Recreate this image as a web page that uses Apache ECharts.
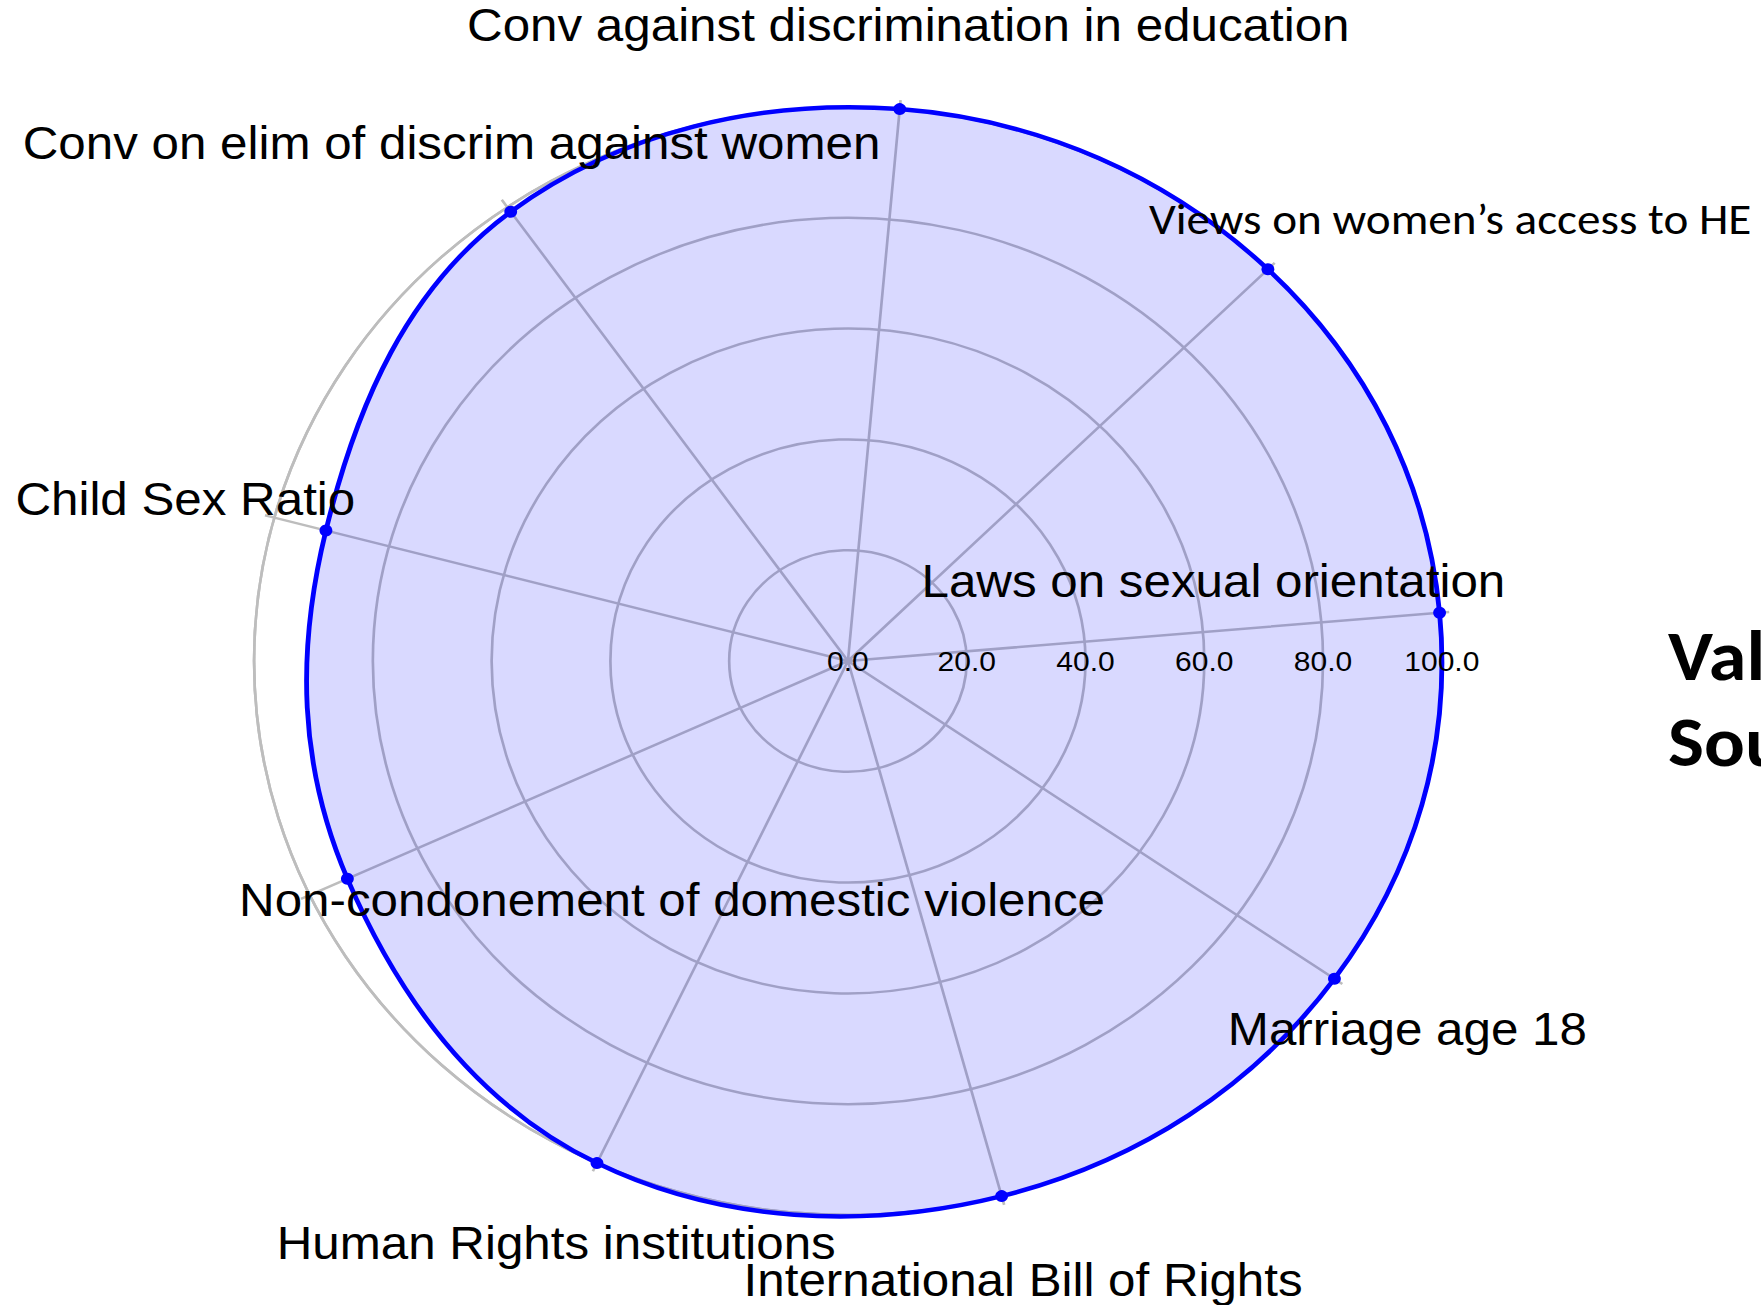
<!DOCTYPE html>
<html>
<head>
<meta charset="utf-8">
<title>Radar</title>
<script src="https://cdn.jsdelivr.net/npm/echarts@6.0.0/dist/echarts.min.js"></script>
<style>
  html, body { margin: 0; padding: 0; background: #fff; overflow: hidden; }
  /* the source picture is a bit wider than tall, so stretch the drawing horizontally */
  #main { width: 1643px; height: 1305px; transform: scaleX(1.072); transform-origin: 0 0; }
</style>
</head>
<body>
<div id="main"></div>
<script>
const categories = [
  'Laws on sexual orientation',
  'Views on women\u2019s access to HE',
  'Conv against discrimination in education',
  'Conv on elim of discrim against women',
  'Child Sex Ratio',
  'Non-condonement of domestic violence',
  'Human Rights institutions',
  'International Bill of Rights',
  'Marriage age 18'
];
const scores = [100, 100, 100, 99, 91, 93, 100, 100, 100];
const radialTicks = [0, 20, 40, 60, 80, 100];
const titleLines = ['Val', 'Sou'];

// axis name placement, relative to the outer end of each spoke (px)
const nameOffsets = [
  [-211, -32], [170, -50], [8, -84], [-52, -64], [-83, -19],
  [338, 5], [-38, 80], [20, 84], [68, 50]
];

const step = 360 / categories.length;
const angles = categories.map((c, i) => i * step);
const rMax = radialTicks[radialTicks.length - 1];
const gridColor = '#bdbdbd';
const CENTER = [791, 661];
const RADIUS = 554;

var myChart = echarts.init(document.getElementById('main'), null, { renderer: 'svg' });

var option = {
  animation: false,
  backgroundColor: '#ffffff',
  title: {
    text: titleLines.join('\n'),
    left: 1551,
    top: 608,
    textStyle: {
      fontFamily: 'Carlito, Lato, sans-serif',
      fontWeight: 'bold',
      fontSize: 71,
      lineHeight: 86,
      color: '#000'
    }
  },
  polar: [
    { center: CENTER, radius: RADIUS },
    { center: CENTER, radius: RADIUS }
  ],
  angleAxis: [
    {
      polarIndex: 0,
      type: 'value',
      min: 0,
      max: 360,
      interval: step,
      startAngle: 5,
      clockwise: false,
      axisLine: { show: true, lineStyle: { color: gridColor, width: 2.5 } },
      axisTick: { show: true, inside: false, length: 9, lineStyle: { color: gridColor, width: 2.5 } },
      axisLabel: { show: false },
      splitLine: { show: true, lineStyle: { color: gridColor, width: 2.5 } }
    },
    {
      polarIndex: 1,
      type: 'value',
      min: 0,
      max: 360,
      startAngle: 0,
      show: false
    }
  ],
  radiusAxis: [
    {
      polarIndex: 0,
      type: 'value',
      min: radialTicks[0],
      max: rMax,
      interval: radialTicks[1] - radialTicks[0],
      axisLine: { show: false },
      axisTick: { show: false },
      axisLabel: { show: false },
      splitLine: { show: true, lineStyle: { color: gridColor, width: 2.5 } }
    },
    {
      polarIndex: 1,
      type: 'value',
      min: radialTicks[0],
      max: rMax,
      interval: radialTicks[1] - radialTicks[0],
      axisLine: { show: false },
      axisTick: { show: false },
      splitLine: { show: false },
      axisLabel: {
        margin: 0,
        align: 'center',
        verticalAlign: 'middle',
        fontFamily: 'Liberation Sans, Arial, sans-serif',
        fontSize: 28,
        color: '#000',
        formatter: v => v.toFixed(1)
      },
      z: 5
    }
  ],
  series: [
    {
      // closed spline through the scores, filled
      type: 'custom',
      coordinateSystem: 'polar',
      polarIndex: 0,
      silent: true,
      data: [0],
      z: 2,
      renderItem: function (params, api) {
        var pts = scores.map((v, i) => api.coord([v, angles[i]]));
        return {
          type: 'polygon',
          shape: { points: pts, smooth: 0.37 },
          style: { fill: 'rgba(0,0,255,0.15)', stroke: '#0000ff', lineWidth: 4.5 }
        };
      }
    },
    {
      type: 'scatter',
      coordinateSystem: 'polar',
      polarIndex: 0,
      silent: true,
      symbol: 'circle',
      symbolSize: 12,
      itemStyle: { color: '#0000ff', opacity: 1 },
      data: scores.map((v, i) => [v, angles[i]]),
      z: 3
    },
    {
      // axis names
      type: 'scatter',
      coordinateSystem: 'polar',
      polarIndex: 0,
      silent: true,
      symbolSize: 0,
      itemStyle: { opacity: 1 },
      z: 6,
      label: {
        show: true,
        position: 'inside',
        align: 'center',
        verticalAlign: 'middle',
        fontFamily: 'Liberation Sans, Arial, sans-serif',
        fontSize: 46,
        color: '#000',
        formatter: p => p.name
      },
      data: categories.map((name, i) => {
        var item = { name: name, value: [rMax, angles[i]], label: { offset: nameOffsets[i] } };
        if (i === 1) {
          item.label.fontFamily = 'Carlito, Lato, sans-serif';
          item.label.fontSize = 44;
        }
        return item;
      })
    }
  ]
};

myChart.setOption(option);
</script>
</body>
</html>
